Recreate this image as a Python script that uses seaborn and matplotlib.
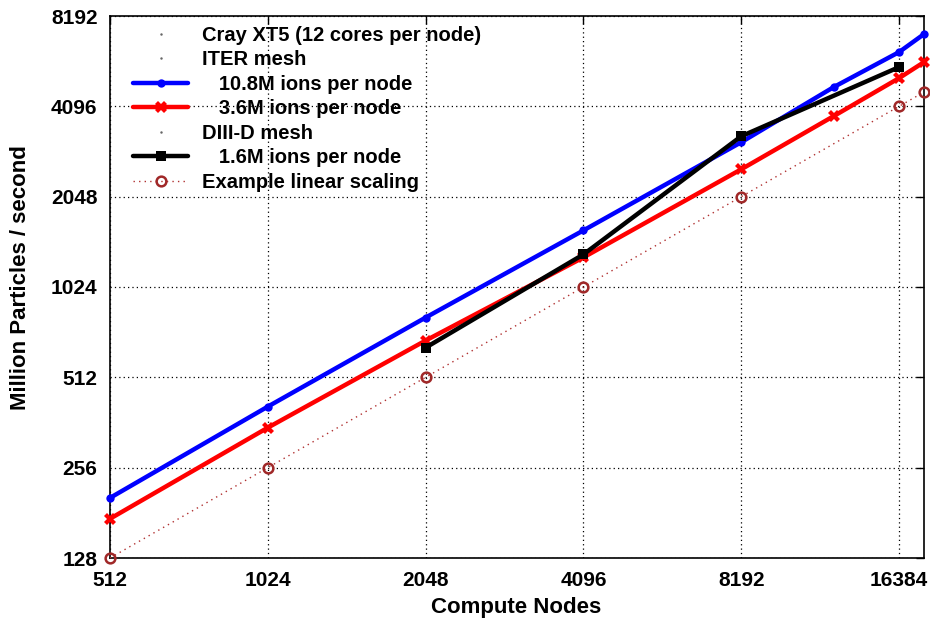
import matplotlib
matplotlib.use("Agg")
import matplotlib.pyplot as plt
import seaborn as sns
import pandas as pd
from matplotlib.lines import Line2D
from matplotlib.ticker import FixedLocator, NullLocator, FixedFormatter

nodes_iter = [512, 1024, 2048, 4096, 8192, 12288, 16384, 18280]
iter_108 = [203, 409, 810, 1581, 3110, 4745, 6210, 7130]
iter_36 = [173, 348, 679, 1285, 2527, 3798, 5086, 5750]
nodes_d3d = [2048, 4096, 8192, 16384]
d3d_16 = [643, 1315, 3256, 5535]
nodes_lin = [512, 1024, 2048, 4096, 8192, 16384, 18280]
linear = [128, 256, 512, 1024, 2048, 4096, 4570]

x_ticks = [512, 1024, 2048, 4096, 8192, 16384]
y_ticks = [128, 256, 512, 1024, 2048, 4096, 8192]

sns.set_style("white")
plt.rcParams['font.family'] = ['Liberation Sans', 'DejaVu Sans']
plt.rcParams['font.weight'] = 'bold'
plt.rcParams['text.color'] = 'black'
plt.rcParams['axes.labelcolor'] = 'black'
plt.rcParams['xtick.color'] = 'black'
plt.rcParams['ytick.color'] = 'black'

fig = plt.figure(figsize=(9.3, 6.21), dpi=100)
ax = fig.add_axes([110/930, 1-558/621, (924-110)/930, (558-16)/621])

df_b = pd.DataFrame({"x": nodes_iter, "y": iter_108})
df_r = pd.DataFrame({"x": nodes_iter, "y": iter_36})
df_k = pd.DataFrame({"x": nodes_d3d, "y": d3d_16})
df_l = pd.DataFrame({"x": nodes_lin, "y": linear})

lin_style = dict(color="#b03030", lw=1.0, linestyle=(0, (1, 3)), marker="o", markersize=7,
                 markerfacecolor="none", markeredgecolor="#a02828", markeredgewidth=1.8)
red_style = dict(color="#ff0000", lw=3.2, marker="X", markersize=8, markeredgewidth=0)
blue_style = dict(color="#0000ff", lw=3.2, marker="o", markersize=6, markeredgewidth=0)
black_style = dict(color="#000000", lw=3.2, marker="s", markersize=7, markeredgewidth=0)

sns.lineplot(data=df_l, x="x", y="y", ax=ax, zorder=3, clip_on=False, **lin_style)
sns.lineplot(data=df_r, x="x", y="y", ax=ax, zorder=4, clip_on=False, **red_style)
sns.lineplot(data=df_b, x="x", y="y", ax=ax, zorder=4, clip_on=False, **blue_style)
sns.lineplot(data=df_k, x="x", y="y", ax=ax, zorder=5, clip_on=False, **black_style)

ax.set_xscale("log", base=2)
ax.set_yscale("log", base=2)
ax.set_xlim(512, 18280)
ax.set_ylim(128, 8192)
ax.xaxis.set_major_locator(FixedLocator(x_ticks))
ax.xaxis.set_major_formatter(FixedFormatter([str(v) for v in x_ticks]))
ax.xaxis.set_minor_locator(NullLocator())
ax.yaxis.set_major_locator(FixedLocator(y_ticks))
ax.yaxis.set_major_formatter(FixedFormatter([str(v) for v in y_ticks]))
ax.yaxis.set_minor_locator(NullLocator())

ax.grid(True, color="black", linestyle=(0, (1, 2.5)), lw=0.9)
ax.tick_params(axis="both", which="major", direction="in", length=6, width=1,
               top=True, right=True, labelsize=15, pad=9, colors="black")
for lbl in ax.get_xticklabels() + ax.get_yticklabels():
    lbl.set_fontweight("bold")
for s in ax.spines.values():
    s.set_color("black")
    s.set_linewidth(1.2)

ax.set_xlabel("Compute Nodes", fontsize=16, fontweight="bold", color="black")
ax.set_ylabel("Million Particles / second", fontsize=16, fontweight="bold", color="black")
ax.xaxis.set_label_coords(0.499, -0.092)
ax.xaxis.label.set_va("center")
ax.yaxis.set_label_coords(-0.110, 0.517)
ax.yaxis.label.set_va("center")

blank = dict(linestyle="none", marker=".", markersize=1.5, color="#666666")
handles = [
    Line2D([], [], **blank),
    Line2D([], [], **blank),
    Line2D([], [], **blue_style),
    Line2D([], [], **red_style),
    Line2D([], [], **blank),
    Line2D([], [], **black_style),
    Line2D([], [], **lin_style),
]
labels = [
    "Cray XT5 (12 cores per node)",
    "ITER mesh",
    "   10.8M ions per node",
    "   3.6M ions per node",
    "DIII-D mesh",
    "   1.6M ions per node",
    "Example linear scaling",
]
leg = ax.legend(handles, labels, loc="upper left",
                bbox_to_anchor=(23/814, 1-(26-16)/542),
                frameon=False, prop={"size": 14.5, "weight": "bold"},
                handlelength=2.75, handletextpad=0.7, labelspacing=0.27,
                borderaxespad=0.0, borderpad=0.0, labelcolor="black")

fig.savefig("out.png", dpi=100)
